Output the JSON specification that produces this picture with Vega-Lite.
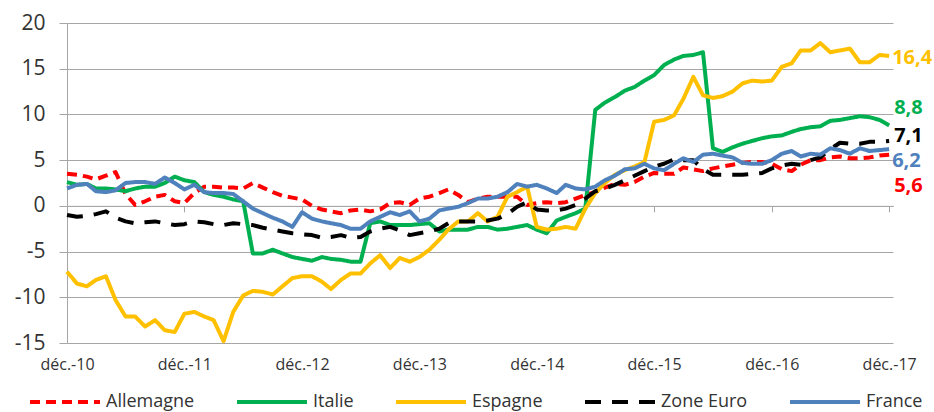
{
"$schema": "https://vega.github.io/schema/vega-lite/v6.json",
"width": 826, "height": 320, "autosize": "none",
"padding": {"left": 67, "top": 23, "right": 41, "bottom": 69},
"background": "white",
"config": {
  "font": "Open Sans",
  "view": {"stroke": null},
  "locale": {"number": {"decimal": ",", "thousands": " ", "grouping": [3], "currency": ["", " €"], "minus": "-"}}
},
"data": {"values": [
{"date":"2010-12-01","pays":"Allemagne","v":3.5},{"date":"2011-01-01","pays":"Allemagne","v":3.4},{"date":"2011-02-01","pays":"Allemagne","v":3.2},{"date":"2011-03-01","pays":"Allemagne","v":2.9},{"date":"2011-04-01","pays":"Allemagne","v":3.3},{"date":"2011-05-01","pays":"Allemagne","v":3.7},{"date":"2011-06-01","pays":"Allemagne","v":1.3},{"date":"2011-07-01","pays":"Allemagne","v":0.1},{"date":"2011-08-01","pays":"Allemagne","v":0.5},{"date":"2011-09-01","pays":"Allemagne","v":1.0},{"date":"2011-10-01","pays":"Allemagne","v":1.2},{"date":"2011-11-01","pays":"Allemagne","v":0.5},{"date":"2011-12-01","pays":"Allemagne","v":0.3},
{"date":"2012-01-01","pays":"Allemagne","v":1.4},{"date":"2012-02-01","pays":"Allemagne","v":2.1},{"date":"2012-03-01","pays":"Allemagne","v":2.1},{"date":"2012-04-01","pays":"Allemagne","v":2.0},{"date":"2012-05-01","pays":"Allemagne","v":2.0},{"date":"2012-06-01","pays":"Allemagne","v":1.9},{"date":"2012-07-01","pays":"Allemagne","v":2.5},{"date":"2012-08-01","pays":"Allemagne","v":2.0},{"date":"2012-09-01","pays":"Allemagne","v":1.5},{"date":"2012-10-01","pays":"Allemagne","v":1.1},{"date":"2012-11-01","pays":"Allemagne","v":0.9},{"date":"2012-12-01","pays":"Allemagne","v":0.7},
{"date":"2013-01-01","pays":"Allemagne","v":0.0},{"date":"2013-02-01","pays":"Allemagne","v":-0.4},{"date":"2013-03-01","pays":"Allemagne","v":-0.6},{"date":"2013-04-01","pays":"Allemagne","v":-0.8},{"date":"2013-05-01","pays":"Allemagne","v":-0.5},{"date":"2013-06-01","pays":"Allemagne","v":-0.4},{"date":"2013-07-01","pays":"Allemagne","v":-0.6},{"date":"2013-08-01","pays":"Allemagne","v":-0.4},{"date":"2013-09-01","pays":"Allemagne","v":0.3},{"date":"2013-10-01","pays":"Allemagne","v":0.4},{"date":"2013-11-01","pays":"Allemagne","v":0.1},{"date":"2013-12-01","pays":"Allemagne","v":0.8},
{"date":"2014-01-01","pays":"Allemagne","v":1.0},{"date":"2014-02-01","pays":"Allemagne","v":1.4},{"date":"2014-03-01","pays":"Allemagne","v":1.8},{"date":"2014-04-01","pays":"Allemagne","v":1.2},{"date":"2014-05-01","pays":"Allemagne","v":0.4},{"date":"2014-06-01","pays":"Allemagne","v":0.8},{"date":"2014-07-01","pays":"Allemagne","v":1.0},{"date":"2014-08-01","pays":"Allemagne","v":1.0},{"date":"2014-09-01","pays":"Allemagne","v":1.0},{"date":"2014-10-01","pays":"Allemagne","v":1.0},{"date":"2014-11-01","pays":"Allemagne","v":0.1},{"date":"2014-12-01","pays":"Allemagne","v":0.3},
{"date":"2015-01-01","pays":"Allemagne","v":0.4},{"date":"2015-02-01","pays":"Allemagne","v":0.3},{"date":"2015-03-01","pays":"Allemagne","v":0.4},{"date":"2015-04-01","pays":"Allemagne","v":0.8},{"date":"2015-05-01","pays":"Allemagne","v":1.2},{"date":"2015-06-01","pays":"Allemagne","v":1.5},{"date":"2015-07-01","pays":"Allemagne","v":2.0},{"date":"2015-08-01","pays":"Allemagne","v":2.4},{"date":"2015-09-01","pays":"Allemagne","v":2.3},{"date":"2015-10-01","pays":"Allemagne","v":2.6},{"date":"2015-11-01","pays":"Allemagne","v":3.2},{"date":"2015-12-01","pays":"Allemagne","v":3.6},
{"date":"2016-01-01","pays":"Allemagne","v":3.5},{"date":"2016-02-01","pays":"Allemagne","v":3.5},{"date":"2016-03-01","pays":"Allemagne","v":4.2},{"date":"2016-04-01","pays":"Allemagne","v":4.0},{"date":"2016-05-01","pays":"Allemagne","v":3.8},{"date":"2016-06-01","pays":"Allemagne","v":4.1},{"date":"2016-07-01","pays":"Allemagne","v":4.3},{"date":"2016-08-01","pays":"Allemagne","v":4.5},{"date":"2016-09-01","pays":"Allemagne","v":4.7},{"date":"2016-10-01","pays":"Allemagne","v":4.8},{"date":"2016-11-01","pays":"Allemagne","v":4.8},{"date":"2016-12-01","pays":"Allemagne","v":4.6},
{"date":"2017-01-01","pays":"Allemagne","v":4.0},{"date":"2017-02-01","pays":"Allemagne","v":3.8},{"date":"2017-03-01","pays":"Allemagne","v":4.5},{"date":"2017-04-01","pays":"Allemagne","v":5.0},{"date":"2017-05-01","pays":"Allemagne","v":5.0},{"date":"2017-06-01","pays":"Allemagne","v":5.3},{"date":"2017-07-01","pays":"Allemagne","v":5.4},{"date":"2017-08-01","pays":"Allemagne","v":5.2},{"date":"2017-09-01","pays":"Allemagne","v":5.2},{"date":"2017-10-01","pays":"Allemagne","v":5.3},{"date":"2017-11-01","pays":"Allemagne","v":5.5},{"date":"2017-12-01","pays":"Allemagne","v":5.6},

{"date":"2010-12-01","pays":"Italie","v":2.6},{"date":"2011-01-01","pays":"Italie","v":2.3},{"date":"2011-02-01","pays":"Italie","v":2.4},{"date":"2011-03-01","pays":"Italie","v":1.9},{"date":"2011-04-01","pays":"Italie","v":1.9},{"date":"2011-05-01","pays":"Italie","v":1.8},{"date":"2011-06-01","pays":"Italie","v":1.6},{"date":"2011-07-01","pays":"Italie","v":1.9},{"date":"2011-08-01","pays":"Italie","v":2.1},{"date":"2011-09-01","pays":"Italie","v":2.1},{"date":"2011-10-01","pays":"Italie","v":2.5},{"date":"2011-11-01","pays":"Italie","v":3.2},{"date":"2011-12-01","pays":"Italie","v":2.8},
{"date":"2012-01-01","pays":"Italie","v":2.6},{"date":"2012-02-01","pays":"Italie","v":1.5},{"date":"2012-03-01","pays":"Italie","v":1.2},{"date":"2012-04-01","pays":"Italie","v":1.0},{"date":"2012-05-01","pays":"Italie","v":0.7},{"date":"2012-06-01","pays":"Italie","v":0.5},{"date":"2012-07-01","pays":"Italie","v":-5.2},{"date":"2012-08-01","pays":"Italie","v":-5.2},{"date":"2012-09-01","pays":"Italie","v":-4.8},{"date":"2012-10-01","pays":"Italie","v":-5.2},{"date":"2012-11-01","pays":"Italie","v":-5.6},{"date":"2012-12-01","pays":"Italie","v":-5.8},
{"date":"2013-01-01","pays":"Italie","v":-6.0},{"date":"2013-02-01","pays":"Italie","v":-5.6},{"date":"2013-03-01","pays":"Italie","v":-5.8},{"date":"2013-04-01","pays":"Italie","v":-5.9},{"date":"2013-05-01","pays":"Italie","v":-6.1},{"date":"2013-06-01","pays":"Italie","v":-6.1},{"date":"2013-07-01","pays":"Italie","v":-1.9},{"date":"2013-08-01","pays":"Italie","v":-1.7},{"date":"2013-09-01","pays":"Italie","v":-2.1},{"date":"2013-10-01","pays":"Italie","v":-2.1},{"date":"2013-11-01","pays":"Italie","v":-2.1},{"date":"2013-12-01","pays":"Italie","v":-2.0},
{"date":"2014-01-01","pays":"Italie","v":-1.9},{"date":"2014-02-01","pays":"Italie","v":-2.8},{"date":"2014-03-01","pays":"Italie","v":-2.6},{"date":"2014-04-01","pays":"Italie","v":-2.6},{"date":"2014-05-01","pays":"Italie","v":-2.6},{"date":"2014-06-01","pays":"Italie","v":-2.3},{"date":"2014-07-01","pays":"Italie","v":-2.3},{"date":"2014-08-01","pays":"Italie","v":-2.6},{"date":"2014-09-01","pays":"Italie","v":-2.5},{"date":"2014-10-01","pays":"Italie","v":-2.3},{"date":"2014-11-01","pays":"Italie","v":-2.1},{"date":"2014-12-01","pays":"Italie","v":-2.6},
{"date":"2015-01-01","pays":"Italie","v":-3.0},{"date":"2015-02-01","pays":"Italie","v":-1.6},{"date":"2015-03-01","pays":"Italie","v":-1.2},{"date":"2015-04-01","pays":"Italie","v":-0.8},{"date":"2015-05-01","pays":"Italie","v":-0.3},{"date":"2015-06-01","pays":"Italie","v":10.5},{"date":"2015-07-01","pays":"Italie","v":11.3},{"date":"2015-08-01","pays":"Italie","v":11.9},{"date":"2015-09-01","pays":"Italie","v":12.6},{"date":"2015-10-01","pays":"Italie","v":13.0},{"date":"2015-11-01","pays":"Italie","v":13.7},{"date":"2015-12-01","pays":"Italie","v":14.3},
{"date":"2016-01-01","pays":"Italie","v":15.4},{"date":"2016-02-01","pays":"Italie","v":16.0},{"date":"2016-03-01","pays":"Italie","v":16.4},{"date":"2016-04-01","pays":"Italie","v":16.5},{"date":"2016-05-01","pays":"Italie","v":16.8},{"date":"2016-06-01","pays":"Italie","v":6.3},{"date":"2016-07-01","pays":"Italie","v":5.9},{"date":"2016-08-01","pays":"Italie","v":6.4},{"date":"2016-09-01","pays":"Italie","v":6.8},{"date":"2016-10-01","pays":"Italie","v":7.1},{"date":"2016-11-01","pays":"Italie","v":7.4},{"date":"2016-12-01","pays":"Italie","v":7.6},
{"date":"2017-01-01","pays":"Italie","v":7.7},{"date":"2017-02-01","pays":"Italie","v":8.1},{"date":"2017-03-01","pays":"Italie","v":8.4},{"date":"2017-04-01","pays":"Italie","v":8.6},{"date":"2017-05-01","pays":"Italie","v":8.7},{"date":"2017-06-01","pays":"Italie","v":9.3},{"date":"2017-07-01","pays":"Italie","v":9.4},{"date":"2017-08-01","pays":"Italie","v":9.6},{"date":"2017-09-01","pays":"Italie","v":9.8},{"date":"2017-10-01","pays":"Italie","v":9.7},{"date":"2017-11-01","pays":"Italie","v":9.4},{"date":"2017-12-01","pays":"Italie","v":8.8},

{"date":"2010-12-01","pays":"Espagne","v":-7.2},{"date":"2011-01-01","pays":"Espagne","v":-8.5},{"date":"2011-02-01","pays":"Espagne","v":-8.8},{"date":"2011-03-01","pays":"Espagne","v":-8.1},{"date":"2011-04-01","pays":"Espagne","v":-7.7},{"date":"2011-05-01","pays":"Espagne","v":-10.3},{"date":"2011-06-01","pays":"Espagne","v":-12.1},{"date":"2011-07-01","pays":"Espagne","v":-12.1},{"date":"2011-08-01","pays":"Espagne","v":-13.2},{"date":"2011-09-01","pays":"Espagne","v":-12.5},{"date":"2011-10-01","pays":"Espagne","v":-13.6},{"date":"2011-11-01","pays":"Espagne","v":-13.8},{"date":"2011-12-01","pays":"Espagne","v":-11.8},
{"date":"2012-01-01","pays":"Espagne","v":-11.6},{"date":"2012-02-01","pays":"Espagne","v":-12.1},{"date":"2012-03-01","pays":"Espagne","v":-12.5},{"date":"2012-04-01","pays":"Espagne","v":-14.8},{"date":"2012-05-01","pays":"Espagne","v":-11.6},{"date":"2012-06-01","pays":"Espagne","v":-9.8},{"date":"2012-07-01","pays":"Espagne","v":-9.3},{"date":"2012-08-01","pays":"Espagne","v":-9.4},{"date":"2012-09-01","pays":"Espagne","v":-9.7},{"date":"2012-10-01","pays":"Espagne","v":-8.8},{"date":"2012-11-01","pays":"Espagne","v":-7.9},{"date":"2012-12-01","pays":"Espagne","v":-7.7},
{"date":"2013-01-01","pays":"Espagne","v":-7.7},{"date":"2013-02-01","pays":"Espagne","v":-8.3},{"date":"2013-03-01","pays":"Espagne","v":-9.1},{"date":"2013-04-01","pays":"Espagne","v":-8.1},{"date":"2013-05-01","pays":"Espagne","v":-7.4},{"date":"2013-06-01","pays":"Espagne","v":-7.4},{"date":"2013-07-01","pays":"Espagne","v":-6.3},{"date":"2013-08-01","pays":"Espagne","v":-5.4},{"date":"2013-09-01","pays":"Espagne","v":-6.8},{"date":"2013-10-01","pays":"Espagne","v":-5.7},{"date":"2013-11-01","pays":"Espagne","v":-6.1},{"date":"2013-12-01","pays":"Espagne","v":-5.6},
{"date":"2014-01-01","pays":"Espagne","v":-4.8},{"date":"2014-02-01","pays":"Espagne","v":-3.7},{"date":"2014-03-01","pays":"Espagne","v":-2.6},{"date":"2014-04-01","pays":"Espagne","v":-1.7},{"date":"2014-05-01","pays":"Espagne","v":-1.7},{"date":"2014-06-01","pays":"Espagne","v":-0.8},{"date":"2014-07-01","pays":"Espagne","v":-1.7},{"date":"2014-08-01","pays":"Espagne","v":-1.2},{"date":"2014-09-01","pays":"Espagne","v":1.0},{"date":"2014-10-01","pays":"Espagne","v":1.5},{"date":"2014-11-01","pays":"Espagne","v":2.1},{"date":"2014-12-01","pays":"Espagne","v":-2.3},
{"date":"2015-01-01","pays":"Espagne","v":-2.6},{"date":"2015-02-01","pays":"Espagne","v":-2.5},{"date":"2015-03-01","pays":"Espagne","v":-2.3},{"date":"2015-04-01","pays":"Espagne","v":-2.5},{"date":"2015-05-01","pays":"Espagne","v":-0.3},{"date":"2015-06-01","pays":"Espagne","v":1.4},{"date":"2015-07-01","pays":"Espagne","v":2.5},{"date":"2015-08-01","pays":"Espagne","v":3.4},{"date":"2015-09-01","pays":"Espagne","v":3.9},{"date":"2015-10-01","pays":"Espagne","v":4.3},{"date":"2015-11-01","pays":"Espagne","v":4.8},{"date":"2015-12-01","pays":"Espagne","v":9.2},
{"date":"2016-01-01","pays":"Espagne","v":9.4},{"date":"2016-02-01","pays":"Espagne","v":9.9},{"date":"2016-03-01","pays":"Espagne","v":11.7},{"date":"2016-04-01","pays":"Espagne","v":14.1},{"date":"2016-05-01","pays":"Espagne","v":12.1},{"date":"2016-06-01","pays":"Espagne","v":11.8},{"date":"2016-07-01","pays":"Espagne","v":12.0},{"date":"2016-08-01","pays":"Espagne","v":12.5},{"date":"2016-09-01","pays":"Espagne","v":13.4},{"date":"2016-10-01","pays":"Espagne","v":13.7},{"date":"2016-11-01","pays":"Espagne","v":13.6},{"date":"2016-12-01","pays":"Espagne","v":13.7},
{"date":"2017-01-01","pays":"Espagne","v":15.2},{"date":"2017-02-01","pays":"Espagne","v":15.6},{"date":"2017-03-01","pays":"Espagne","v":17.0},{"date":"2017-04-01","pays":"Espagne","v":17.0},{"date":"2017-05-01","pays":"Espagne","v":17.8},{"date":"2017-06-01","pays":"Espagne","v":16.8},{"date":"2017-07-01","pays":"Espagne","v":17.0},{"date":"2017-08-01","pays":"Espagne","v":17.2},{"date":"2017-09-01","pays":"Espagne","v":15.7},{"date":"2017-10-01","pays":"Espagne","v":15.7},{"date":"2017-11-01","pays":"Espagne","v":16.5},{"date":"2017-12-01","pays":"Espagne","v":16.4},

{"date":"2010-12-01","pays":"Zone Euro","v":-1.0},{"date":"2011-01-01","pays":"Zone Euro","v":-1.2},{"date":"2011-02-01","pays":"Zone Euro","v":-1.1},{"date":"2011-03-01","pays":"Zone Euro","v":-0.9},{"date":"2011-04-01","pays":"Zone Euro","v":-0.6},{"date":"2011-05-01","pays":"Zone Euro","v":-1.3},{"date":"2011-06-01","pays":"Zone Euro","v":-1.7},{"date":"2011-07-01","pays":"Zone Euro","v":-1.9},{"date":"2011-08-01","pays":"Zone Euro","v":-1.8},{"date":"2011-09-01","pays":"Zone Euro","v":-1.7},{"date":"2011-10-01","pays":"Zone Euro","v":-1.9},{"date":"2011-11-01","pays":"Zone Euro","v":-2.1},{"date":"2011-12-01","pays":"Zone Euro","v":-2.0},
{"date":"2012-01-01","pays":"Zone Euro","v":-1.7},{"date":"2012-02-01","pays":"Zone Euro","v":-1.8},{"date":"2012-03-01","pays":"Zone Euro","v":-2.0},{"date":"2012-04-01","pays":"Zone Euro","v":-2.1},{"date":"2012-05-01","pays":"Zone Euro","v":-1.9},{"date":"2012-06-01","pays":"Zone Euro","v":-2.0},{"date":"2012-07-01","pays":"Zone Euro","v":-2.1},{"date":"2012-08-01","pays":"Zone Euro","v":-2.4},{"date":"2012-09-01","pays":"Zone Euro","v":-2.6},{"date":"2012-10-01","pays":"Zone Euro","v":-2.8},{"date":"2012-11-01","pays":"Zone Euro","v":-3.0},{"date":"2012-12-01","pays":"Zone Euro","v":-3.1},
{"date":"2013-01-01","pays":"Zone Euro","v":-3.2},{"date":"2013-02-01","pays":"Zone Euro","v":-3.5},{"date":"2013-03-01","pays":"Zone Euro","v":-3.4},{"date":"2013-04-01","pays":"Zone Euro","v":-3.2},{"date":"2013-05-01","pays":"Zone Euro","v":-3.5},{"date":"2013-06-01","pays":"Zone Euro","v":-3.4},{"date":"2013-07-01","pays":"Zone Euro","v":-2.8},{"date":"2013-08-01","pays":"Zone Euro","v":-2.5},{"date":"2013-09-01","pays":"Zone Euro","v":-2.3},{"date":"2013-10-01","pays":"Zone Euro","v":-2.7},{"date":"2013-11-01","pays":"Zone Euro","v":-3.2},{"date":"2013-12-01","pays":"Zone Euro","v":-3.0},
{"date":"2014-01-01","pays":"Zone Euro","v":-2.8},{"date":"2014-02-01","pays":"Zone Euro","v":-2.5},{"date":"2014-03-01","pays":"Zone Euro","v":-1.9},{"date":"2014-04-01","pays":"Zone Euro","v":-1.7},{"date":"2014-05-01","pays":"Zone Euro","v":-1.7},{"date":"2014-06-01","pays":"Zone Euro","v":-1.7},{"date":"2014-07-01","pays":"Zone Euro","v":-1.6},{"date":"2014-08-01","pays":"Zone Euro","v":-1.4},{"date":"2014-09-01","pays":"Zone Euro","v":-0.9},{"date":"2014-10-01","pays":"Zone Euro","v":-0.1},{"date":"2014-11-01","pays":"Zone Euro","v":0.4},{"date":"2014-12-01","pays":"Zone Euro","v":-0.4},
{"date":"2015-01-01","pays":"Zone Euro","v":-0.5},{"date":"2015-02-01","pays":"Zone Euro","v":-0.5},{"date":"2015-03-01","pays":"Zone Euro","v":-0.3},{"date":"2015-04-01","pays":"Zone Euro","v":0.1},{"date":"2015-05-01","pays":"Zone Euro","v":0.8},{"date":"2015-06-01","pays":"Zone Euro","v":1.6},{"date":"2015-07-01","pays":"Zone Euro","v":1.9},{"date":"2015-08-01","pays":"Zone Euro","v":2.3},{"date":"2015-09-01","pays":"Zone Euro","v":2.8},{"date":"2015-10-01","pays":"Zone Euro","v":3.3},{"date":"2015-11-01","pays":"Zone Euro","v":3.8},{"date":"2015-12-01","pays":"Zone Euro","v":4.3},
{"date":"2016-01-01","pays":"Zone Euro","v":4.6},{"date":"2016-02-01","pays":"Zone Euro","v":5.1},{"date":"2016-03-01","pays":"Zone Euro","v":5.0},{"date":"2016-04-01","pays":"Zone Euro","v":5.0},{"date":"2016-05-01","pays":"Zone Euro","v":4.0},{"date":"2016-06-01","pays":"Zone Euro","v":3.4},{"date":"2016-07-01","pays":"Zone Euro","v":3.4},{"date":"2016-08-01","pays":"Zone Euro","v":3.4},{"date":"2016-09-01","pays":"Zone Euro","v":3.4},{"date":"2016-10-01","pays":"Zone Euro","v":3.5},{"date":"2016-11-01","pays":"Zone Euro","v":3.6},{"date":"2016-12-01","pays":"Zone Euro","v":4.1},
{"date":"2017-01-01","pays":"Zone Euro","v":4.4},{"date":"2017-02-01","pays":"Zone Euro","v":4.6},{"date":"2017-03-01","pays":"Zone Euro","v":4.5},{"date":"2017-04-01","pays":"Zone Euro","v":5.0},{"date":"2017-05-01","pays":"Zone Euro","v":5.3},{"date":"2017-06-01","pays":"Zone Euro","v":6.2},{"date":"2017-07-01","pays":"Zone Euro","v":6.9},{"date":"2017-08-01","pays":"Zone Euro","v":6.8},{"date":"2017-09-01","pays":"Zone Euro","v":6.8},{"date":"2017-10-01","pays":"Zone Euro","v":7.0},{"date":"2017-11-01","pays":"Zone Euro","v":7.0},{"date":"2017-12-01","pays":"Zone Euro","v":7.1},

{"date":"2010-12-01","pays":"France","v":1.9},{"date":"2011-01-01","pays":"France","v":2.3},{"date":"2011-02-01","pays":"France","v":2.4},{"date":"2011-03-01","pays":"France","v":1.6},{"date":"2011-04-01","pays":"France","v":1.5},{"date":"2011-05-01","pays":"France","v":1.7},{"date":"2011-06-01","pays":"France","v":2.5},{"date":"2011-07-01","pays":"France","v":2.6},{"date":"2011-08-01","pays":"France","v":2.6},{"date":"2011-09-01","pays":"France","v":2.4},{"date":"2011-10-01","pays":"France","v":3.1},{"date":"2011-11-01","pays":"France","v":2.5},{"date":"2011-12-01","pays":"France","v":1.8},
{"date":"2012-01-01","pays":"France","v":2.3},{"date":"2012-02-01","pays":"France","v":1.5},{"date":"2012-03-01","pays":"France","v":1.4},{"date":"2012-04-01","pays":"France","v":1.4},{"date":"2012-05-01","pays":"France","v":1.3},{"date":"2012-06-01","pays":"France","v":0.5},{"date":"2012-07-01","pays":"France","v":-0.3},{"date":"2012-08-01","pays":"France","v":-0.8},{"date":"2012-09-01","pays":"France","v":-1.3},{"date":"2012-10-01","pays":"France","v":-1.7},{"date":"2012-11-01","pays":"France","v":-2.3},{"date":"2012-12-01","pays":"France","v":-0.7},
{"date":"2013-01-01","pays":"France","v":-1.4},{"date":"2013-02-01","pays":"France","v":-1.7},{"date":"2013-03-01","pays":"France","v":-1.9},{"date":"2013-04-01","pays":"France","v":-2.1},{"date":"2013-05-01","pays":"France","v":-2.5},{"date":"2013-06-01","pays":"France","v":-2.5},{"date":"2013-07-01","pays":"France","v":-1.7},{"date":"2013-08-01","pays":"France","v":-1.2},{"date":"2013-09-01","pays":"France","v":-0.7},{"date":"2013-10-01","pays":"France","v":-1.0},{"date":"2013-11-01","pays":"France","v":-0.6},{"date":"2013-12-01","pays":"France","v":-1.7},
{"date":"2014-01-01","pays":"France","v":-1.4},{"date":"2014-02-01","pays":"France","v":-0.5},{"date":"2014-03-01","pays":"France","v":-0.3},{"date":"2014-04-01","pays":"France","v":-0.1},{"date":"2014-05-01","pays":"France","v":0.3},{"date":"2014-06-01","pays":"France","v":0.8},{"date":"2014-07-01","pays":"France","v":0.8},{"date":"2014-08-01","pays":"France","v":1.0},{"date":"2014-09-01","pays":"France","v":1.5},{"date":"2014-10-01","pays":"France","v":2.4},{"date":"2014-11-01","pays":"France","v":2.1},{"date":"2014-12-01","pays":"France","v":2.3},
{"date":"2015-01-01","pays":"France","v":1.9},{"date":"2015-02-01","pays":"France","v":1.4},{"date":"2015-03-01","pays":"France","v":2.3},{"date":"2015-04-01","pays":"France","v":1.9},{"date":"2015-05-01","pays":"France","v":1.8},{"date":"2015-06-01","pays":"France","v":2.1},{"date":"2015-07-01","pays":"France","v":2.8},{"date":"2015-08-01","pays":"France","v":3.3},{"date":"2015-09-01","pays":"France","v":4.0},{"date":"2015-10-01","pays":"France","v":4.1},{"date":"2015-11-01","pays":"France","v":4.6},{"date":"2015-12-01","pays":"France","v":4.1},
{"date":"2016-01-01","pays":"France","v":3.9},{"date":"2016-02-01","pays":"France","v":4.6},{"date":"2016-03-01","pays":"France","v":5.2},{"date":"2016-04-01","pays":"France","v":4.8},{"date":"2016-05-01","pays":"France","v":5.6},{"date":"2016-06-01","pays":"France","v":5.7},{"date":"2016-07-01","pays":"France","v":5.5},{"date":"2016-08-01","pays":"France","v":5.3},{"date":"2016-09-01","pays":"France","v":4.7},{"date":"2016-10-01","pays":"France","v":4.6},{"date":"2016-11-01","pays":"France","v":4.6},{"date":"2016-12-01","pays":"France","v":5.0},
{"date":"2017-01-01","pays":"France","v":5.7},{"date":"2017-02-01","pays":"France","v":6.0},{"date":"2017-03-01","pays":"France","v":5.4},{"date":"2017-04-01","pays":"France","v":5.7},{"date":"2017-05-01","pays":"France","v":5.6},{"date":"2017-06-01","pays":"France","v":6.3},{"date":"2017-07-01","pays":"France","v":6.1},{"date":"2017-08-01","pays":"France","v":5.7},{"date":"2017-09-01","pays":"France","v":6.3},{"date":"2017-10-01","pays":"France","v":6.0},{"date":"2017-11-01","pays":"France","v":6.1},{"date":"2017-12-01","pays":"France","v":6.2}
]},
"resolve": {"axis": {"x": "independent", "y": "shared"}},
"layer": [
 {
  "mark": {"type": "line", "strokeWidth": 4, "strokeJoin": "round"},
  "encoding": {
   "x": {"field": "date", "type": "temporal",
     "scale": {"type": "utc", "domain": [{"year": 2010, "month": 12, "date": 1, "utc": true}, {"year": 2017, "month": 12, "date": 13, "utc": true}]},
     "axis": {"orient": "bottom", "title": null, "domain": false, "ticks": false, "grid": false,
       "values": [{"year": 2010, "month": 12, "date": 1, "utc": true}, {"year": 2011, "month": 12, "date": 1, "utc": true}, {"year": 2012, "month": 12, "date": 1, "utc": true}, {"year": 2013, "month": 12, "date": 1, "utc": true}, {"year": 2014, "month": 12, "date": 1, "utc": true}, {"year": 2015, "month": 12, "date": 1, "utc": true}, {"year": 2016, "month": 12, "date": 1, "utc": true}, {"year": 2017, "month": 12, "date": 1, "utc": true}],
       "labelExpr": "'déc.-' + utcFormat(datum.value, '%y')",
       "labelFontSize": 16, "labelColor": "#333333", "labelPadding": 13, "labelFlush": false, "labelOverlap": false}},
   "y": {"field": "v", "type": "quantitative",
     "scale": {"domain": [-15, 20], "nice": false, "zero": false},
     "axis": {"orient": "left", "title": null, "values": [-15, -10, -5, 0, 5, 10, 15, 20], "domain": true, "domainColor": "#A6A6A6", "domainWidth": 1,
       "ticks": true, "tickSize": 8, "tickColor": "#A6A6A6", "grid": true, "gridColor": "#A6A6A6", "gridWidth": 1,
       "labelFontSize": 21, "labelColor": "#333333", "labelPadding": 14}},
   "color": {"field": "pays", "type": "nominal",
     "scale": {"domain": ["Allemagne", "Italie", "Espagne", "Zone Euro", "France"], "range": ["#FF0000", "#00B050", "#FFC000", "#000000", "#4F81BD"]},
     "legend": {"title": null, "orient": "none", "legendX": -39, "legendY": 369, "direction": "horizontal", "symbolType": "stroke", "symbolSize": 4900, "symbolStrokeWidth": 4, "clipHeight": 20, "labelFontSize": 18, "labelColor": "#333333", "labelOffset": 4, "columnPadding": 40, "labelLimit": 200}},
   "strokeDash": {"field": "pays", "type": "nominal",
     "scale": {"domain": ["Allemagne", "Italie", "Espagne", "Zone Euro", "France"], "range": [[10, 6], [1, 0], [1, 0], [16, 11], [1, 0]]},
     "legend": {"title": null, "orient": "none", "legendX": -39, "legendY": 369, "direction": "horizontal", "symbolType": "stroke", "symbolSize": 4900, "symbolStrokeWidth": 4, "clipHeight": 20, "labelFontSize": 18, "labelColor": "#333333", "labelOffset": 4, "columnPadding": 40, "labelLimit": 200}}
  }
 },
 {
  "transform": [{"filter": "datum.pays == 'Espagne' && utcyear(datum.date) == 2017 && utcmonth(datum.date) == 11"}],
  "mark": {"type": "text", "align": "left", "baseline": "middle", "dx": 3, "dy": 2, "fontSize": 20, "fontWeight": "bold", "color": "#FFC000"},
  "encoding": {
   "x": {"field": "date", "type": "temporal",
     "axis": {"orient": "bottom", "offset": -137.14, "title": null, "labels": false, "grid": false, "domain": true, "domainColor": "#A6A6A6", "domainWidth": 1, "ticks": true, "tickSize": 6, "tickColor": "#A6A6A6",
       "values": [{"year": 2011, "month": 12, "date": 1, "utc": true}, {"year": 2012, "month": 12, "date": 1, "utc": true}, {"year": 2013, "month": 12, "date": 1, "utc": true}, {"year": 2014, "month": 12, "date": 1, "utc": true}, {"year": 2015, "month": 12, "date": 1, "utc": true}, {"year": 2016, "month": 12, "date": 1, "utc": true}, {"year": 2017, "month": 12, "date": 1, "utc": true}]}},
   "y": {"field": "v", "type": "quantitative"},
   "text": {"field": "v", "type": "quantitative", "format": ".1f"}
  }
 },
 {
  "transform": [{"filter": "datum.pays == 'Italie' && utcyear(datum.date) == 2017 && utcmonth(datum.date) == 11"}],
  "mark": {"type": "text", "align": "left", "baseline": "middle", "dx": 5, "dy": -17, "fontSize": 20, "fontWeight": "bold", "color": "#00B050"},
  "encoding": {
   "x": {"field": "date", "type": "temporal", "axis": null},
   "y": {"field": "v", "type": "quantitative"},
   "text": {"field": "v", "type": "quantitative", "format": ".1f"}
  }
 },
 {
  "transform": [{"filter": "datum.pays == 'Zone Euro' && utcyear(datum.date) == 2017 && utcmonth(datum.date) == 11"}],
  "mark": {"type": "text", "align": "left", "baseline": "middle", "dx": 5, "dy": -5, "fontSize": 20, "fontWeight": "bold", "color": "#000000"},
  "encoding": {
   "x": {"field": "date", "type": "temporal", "axis": null},
   "y": {"field": "v", "type": "quantitative"},
   "text": {"field": "v", "type": "quantitative", "format": ".1f"}
  }
 },
 {
  "transform": [{"filter": "datum.pays == 'France' && utcyear(datum.date) == 2017 && utcmonth(datum.date) == 11"}],
  "mark": {"type": "text", "align": "left", "baseline": "middle", "dx": 3, "dy": 12, "fontSize": 20, "fontWeight": "bold", "color": "#4F81BD"},
  "encoding": {
   "x": {"field": "date", "type": "temporal", "axis": null},
   "y": {"field": "v", "type": "quantitative"},
   "text": {"field": "v", "type": "quantitative", "format": ".1f"}
  }
 },
 {
  "transform": [{"filter": "datum.pays == 'Allemagne' && utcyear(datum.date) == 2017 && utcmonth(datum.date) == 11"}],
  "mark": {"type": "text", "align": "left", "baseline": "middle", "dx": 5, "dy": 31, "fontSize": 20, "fontWeight": "bold", "color": "#FF0000"},
  "encoding": {
   "x": {"field": "date", "type": "temporal", "axis": null},
   "y": {"field": "v", "type": "quantitative"},
   "text": {"field": "v", "type": "quantitative", "format": ".1f"}
  }
 }
]
}
